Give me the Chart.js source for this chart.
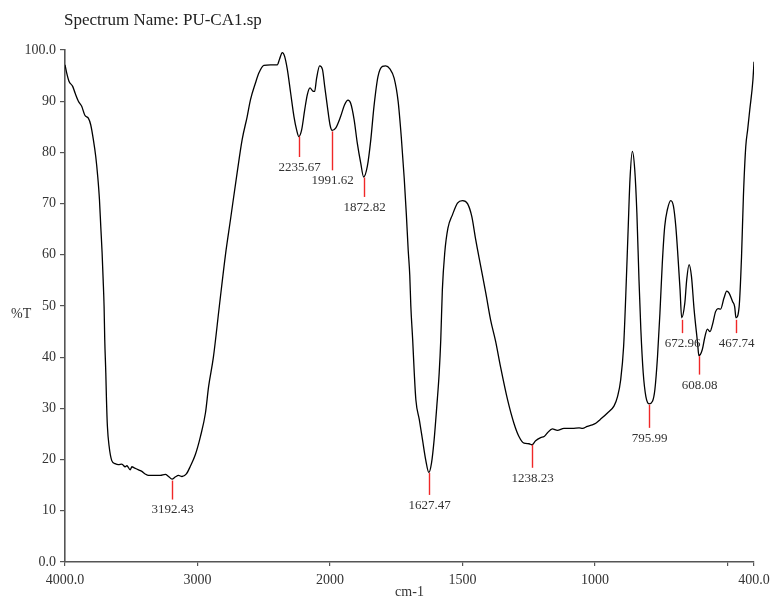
<!DOCTYPE html>
<html>
<head>
<meta charset="utf-8">
<script src="https://cdn.jsdelivr.net/npm/chart.js@4/dist/chart.umd.min.js"></script>
<style>
  html, body { margin: 0; padding: 0; background: #fff; }
  #wrap { width: 771px; height: 601px; position: relative; }
</style>
</head>
<body>
<div id="wrap"><canvas id="c"></canvas></div>
<script>
// ---------- data ----------
const wavenumber = [
  4000,3987,3970,3942,3924,3899,3874,3849,3824,3806,3786,3768,3753,3740,3730,3720,3712,3705,3700,3692,
  3687,3680,3667,3647,3622,3597,3571,3546,3533,3508,3495,3478,3445,3420,3395,3370,3332,3306,3281,3243,
  3218,3192,3168,3143,3117,3084,3054,3016,2978,2940,2916,2880,2835,2789,2751,2701,2663,2625,2600,2562,
  2537,2499,2449,2398,2381,2360,2343,2322,2297,2272,2252,2235,2214,2191,2171,2151,2131,2116,2101,2078,
  2057,2040,2020,2000,1992,1978,1960,1945,1932,1922,1909,1897,1884,1873,1859,1846,1834,1819,1802,1790,
  1774,1758,1743,1731,1720,1712,1705,1699,1695,1688,1682,1676,1663,1651,1639,1627,1617,1607,1597,1588,
  1582,1576,1567,1555,1538,1519,1500,1481,1465,1450,1431,1412,1394,1375,1356,1330,1306,1287,1268,1249,
  1238,1224,1205,1192,1180,1161,1142,1117,1085,1060,1047,1029,1010,997,981,953,928,915,903,892,
  884,875,868,859,850,842,834,827,818,808,796,783,774,764,755,746,737,727,714,704,
  695,687,679,673,661,654,645,636,626,613,608,595,586,576,566,557,545,536,526,513,
  503,494,481,473,468,456,447,440,431,424,416,404,400
];
const transmittance = [
  97.1,95.5,93.9,92.9,91.6,90.0,89.0,87.2,86.7,85.4,82.5,79.2,75.3,70.8,65.5,60.4,55.1,49.9,43.4,36.9,
  31.7,26.5,22.6,19.8,19.2,19.0,19.1,18.6,18.8,18.0,18.6,18.4,18.0,17.7,17.2,16.9,16.9,16.9,16.9,17.1,
  16.7,16.2,16.6,16.9,16.7,17.2,18.7,21.0,24.5,29.1,34.3,40.0,50.0,60.0,66.9,76.0,82.5,87.0,90.3,93.6,
  95.5,97.0,97.1,97.1,98.2,99.5,98.8,96.2,91.6,87.0,84.4,83.1,84.4,88.3,91.3,92.6,92.0,91.9,94.5,96.9,
  96.2,92.9,89.0,85.4,84.3,84.8,87.0,89.3,90.2,89.6,86.4,81.8,77.9,75.2,77.3,82.5,89.0,94.8,96.8,96.9,
  96.3,94.5,90.0,83.0,75.0,68.0,61.0,56.0,50.0,43.4,36.9,31.7,27.8,23.9,20.0,17.5,19.3,23.9,30.4,36.9,
  43.4,53.2,60.4,65.2,67.8,70.1,70.6,70.0,67.5,62.9,57.7,52.5,47.3,43.1,38.0,31.7,27.1,24.5,23.2,23.1,
  22.9,23.7,24.3,24.5,25.2,26.0,25.7,26.1,26.1,26.2,26.1,26.5,26.8,27.1,27.8,29.1,30.5,32.3,35.6,42.1,
  51.9,64.9,74.7,80.2,76.6,68.2,55.1,45.4,36.9,32.3,30.9,31.4,33.7,40.2,48.6,58.4,65.5,68.8,70.6,69.5,
  65.5,59.7,53.2,47.7,50.6,55.1,58.1,55.8,49.3,42.8,40.3,41.5,43.8,45.5,45.0,46.3,48.9,49.5,49.4,51.6,
  52.9,52.5,50.9,49.9,47.7,49.9,59.7,71.4,81.2,84.4,88.3,94.2,97.7
];
const peakWavenumbers = [3192.43, 2235.67, 1991.62, 1872.82, 1627.47, 1238.23, 795.99, 672.96, 608.08, 467.74];
const peakLabels = ["3192.43","2235.67","1991.62","1872.82","1627.47","1238.23","795.99","672.96","608.08","467.74"];
const peakTopT = [15.9, 83.1, 84.1, 75.1, 17.4, 22.9, 30.7, 47.3, 40.2, 47.3];
const peakBottomT = [12.2, 79.1, 76.5, 71.3, 13.1, 18.4, 26.2, 44.7, 36.6, 44.7];
const xTickValues = [4000, 3000, 2000, 1500, 1000, 500, 400];
const xTickLabels = ["4000.0", "3000", "2000", "1500", "1000", "", "400.0"];
const yTickValues = [0, 10, 20, 30, 40, 50, 60, 70, 80, 90, 100];
const yTickLabels = ["0.0", "10", "20", "30", "40", "50", "60", "70", "80", "90", "100.0"];
const chartTitle = "Spectrum Name: PU-CA1.sp";
const xTitle = "cm-1";
const yTitle = "%T";

// ---------- split (IR) wavenumber scale: compressed 2x above 2000 cm-1 ----------
function warp(v) { return v <= 2000 ? v : 2000 + (v - 2000) / 2; }
function unwarp(u) { return u <= 2000 ? u : 2000 + (u - 2000) * 2; }
class SplitScale extends Chart.LinearScale {
  getPixelForValue(value) {
    const a = warp(this.min), b = warp(this.max);
    return this.getPixelForDecimal((warp(value) - a) / (b - a));
  }
  getValueForPixel(pixel) {
    const a = warp(this.min), b = warp(this.max);
    return unwarp(a + this.getDecimalForPixel(pixel) * (b - a));
  }
}
SplitScale.id = 'split';
SplitScale.defaults = Chart.LinearScale.defaults;
Chart.register(SplitScale);

const SERIF = "'Liberation Serif', 'Times New Roman', serif";
const axisColor = '#555';
const textColor = '#333';

const annotPlugin = {
  id: 'annot',
  afterDatasetsDraw(chart) {
    const ctx = chart.ctx;
    const xs = chart.scales.x, ys = chart.scales.y;
    ctx.save();
    // peak markers
    for (let i = 0; i < peakWavenumbers.length; i++) {
      const px = Math.round(xs.getPixelForValue(peakWavenumbers[i])) + 0.5;
      const y1 = ys.getPixelForValue(peakTopT[i]);
      const y2 = ys.getPixelForValue(peakBottomT[i]);
      ctx.strokeStyle = 'rgb(240,40,40)';
      ctx.lineWidth = 1.4;
      ctx.beginPath();
      ctx.moveTo(px, y1);
      ctx.lineTo(px, y2);
      ctx.stroke();
      ctx.fillStyle = textColor;
      ctx.font = "13px " + SERIF;
      ctx.textAlign = 'center';
      ctx.textBaseline = 'top';
      ctx.fillText(peakLabels[i], px, y2 + 4);
    }
    // titles
    ctx.fillStyle = '#222';
    ctx.font = "17px " + SERIF;
    ctx.textAlign = 'left';
    ctx.textBaseline = 'alphabetic';
    ctx.fillText(chartTitle, 64, 25);
    ctx.fillStyle = textColor;
    ctx.font = "14px " + SERIF;
    ctx.fillText(yTitle, 11, 318);
    ctx.textAlign = 'center';
    ctx.fillText(xTitle, (chart.chartArea.left + chart.chartArea.right) / 2, 596);
    ctx.restore();
  }
};

const points = wavenumber.map((w, i) => ({ x: w, y: transmittance[i] }));

new Chart(document.getElementById('c'), {
  type: 'line',
  data: {
    datasets: [{
      data: points,
      borderColor: '#000',
      borderWidth: 1.3,
      pointRadius: 0,
      fill: false,
      cubicInterpolationMode: 'monotone'
    }]
  },
  options: {
    responsive: true,
    maintainAspectRatio: false,
    animation: false,
    events: [],
    layout: { padding: { top: 50, right: 17, bottom: 0, left: 0 } },
    plugins: {
      legend: { display: false },
      title: { display: false },
      tooltip: { enabled: false }
    },
    scales: {
      x: {
        type: 'split',
        min: 400,
        max: 4000,
        reverse: true,
        afterBuildTicks(scale) { scale.ticks = xTickValues.map(v => ({ value: v })); },
        afterFit(scale) { scale.height = 39; scale.paddingLeft = 0; scale.paddingRight = 0; },
        grid: { display: true, drawOnChartArea: false, drawTicks: true, tickLength: 4, color: axisColor, lineWidth: 1.2 },
        border: { display: true, color: axisColor, width: 1.6 },
        ticks: {
          autoSkip: false,
          maxRotation: 0,
          padding: 6,
          color: textColor,
          font: { family: SERIF, size: 14 },
          callback: (v, i) => xTickLabels[i]
        }
      },
      y: {
        type: 'linear',
        min: 0,
        max: 100,
        afterBuildTicks(scale) { scale.ticks = yTickValues.map(v => ({ value: v })); },
        afterFit(scale) { scale.width = 65; scale.paddingTop = 0; scale.paddingBottom = 0; },
        grid: { display: true, drawOnChartArea: false, drawTicks: true, tickLength: 5, color: axisColor, lineWidth: 1.2 },
        border: { display: true, color: axisColor, width: 1.6 },
        ticks: {
          padding: 4,
          color: textColor,
          font: { family: SERIF, size: 14 },
          callback: (v, i) => yTickLabels[i]
        }
      }
    }
  },
  plugins: [annotPlugin]
});
</script>
</body>
</html>
